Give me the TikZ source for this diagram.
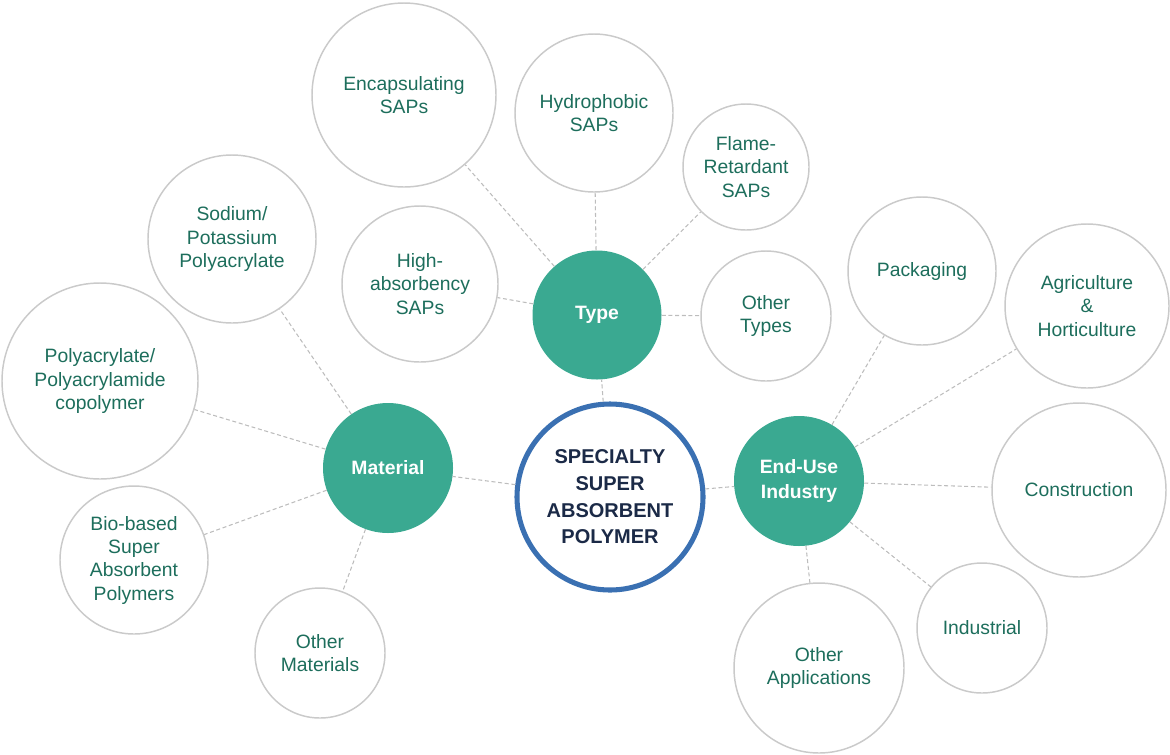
\documentclass[tikz,border=0pt]{standalone}
\usepackage{fontspec}
\setmainfont{Liberation Sans}
\usepackage{xcolor}
\usepackage{tikz}
\usetikzlibrary{positioning}

\definecolor{hubteal}{HTML}{3AA991}
\definecolor{labelteal}{HTML}{1D6E5C}
\definecolor{ringgray}{HTML}{CACACA}
\definecolor{linkgray}{HTML}{BDBDBD}
\definecolor{coreblue}{HTML}{3A70B2}
\definecolor{corenavy}{HTML}{1B2A47}

\tikzset{
  leaf/.style={circle, draw=ringgray, line width=1.1pt, fill=white, text=labelteal,
    align=center, inner sep=0pt, minimum size={#1*0.75pt},
    font=\fontsize{14.5pt}{17.5pt}\selectfont},
  hub/.style={circle, fill=hubteal, text=white, align=center, inner sep=0pt,
    minimum size={#1*0.75pt}, font=\fontsize{14.5pt}{19pt}\selectfont\bfseries},
  core/.style={circle, draw=coreblue, line width=3.8pt, fill=white, text=corenavy,
    align=center, inner sep=0pt, minimum size={#1*0.75pt},
    font=\fontsize{15pt}{20pt}\selectfont\bfseries},
  link/.style={draw=linkgray, line width=0.8pt, dash pattern=on 3pt off 2pt}
}

\begin{document}
\begin{tikzpicture}[x=0.75pt, y=-0.75pt]

% Moldura
\useasboundingbox (0,0) rectangle (1170,754);

% Centro
\node[core=186] (sap) at (610,497) {SPECIALTY\\SUPER\\ABSORBENT\\POLYMER};

% Categorias principais
\node[hub=129] (type) at (597,315) {Type};
\node[hub=130] (material) at (388,468) {Material};
\node[hub=130] (enduse) at (799,481) {End-Use\\Industry};

% Tipos
\node[leaf=184] (encap) at (404,95) {Encapsulating\\SAPs};
\node[leaf=158] (hydro) at (594,113) {Hydrophobic\\SAPs};
\node[leaf=126] (flame) at (746,167) {Flame-\\Retardant\\SAPs};
\node[leaf=156] (highabs) at (420,284) {High-\\absorbency\\SAPs};
\node[leaf=130] (othertypes) at (766,316) {Other\\Types};

% Materiais
\node[leaf=168] (sodium) at (232,239) {Sodium/\\Potassium\\Polyacrylate};
\node[leaf=196] (copoly) at (100,381) {Polyacrylate/\\Polyacrylamide\\copolymer};
\node[leaf=148] (biobased) at (134,560) {Bio-based\\Super\\Absorbent\\Polymers};
\node[leaf=130] (othermat) at (320,653) {Other\\Materials};

% Setores de uso final
\node[leaf=148] (packaging) at (922,271) {Packaging};
\node[leaf=164] (agri) at (1087,306) {Agriculture\\\&\\Horticulture};
\node[leaf=174] (constr) at (1079,490) {Construction};
\node[leaf=130] (industrial) at (982,628) {Industrial};
\node[leaf=170] (otherapp) at (819,668) {Other\\Applications};

% Ligacoes tracejadas
\foreach \a/\b in {sap/type, sap/material, sap/enduse,
    type/encap, type/hydro, type/flame, type/highabs, type/othertypes,
    material/sodium, material/copoly, material/biobased, material/othermat,
    enduse/packaging, enduse/agri, enduse/constr, enduse/industrial, enduse/otherapp}
  \draw[link] (\a) -- (\b);

\end{tikzpicture}
\end{document}
